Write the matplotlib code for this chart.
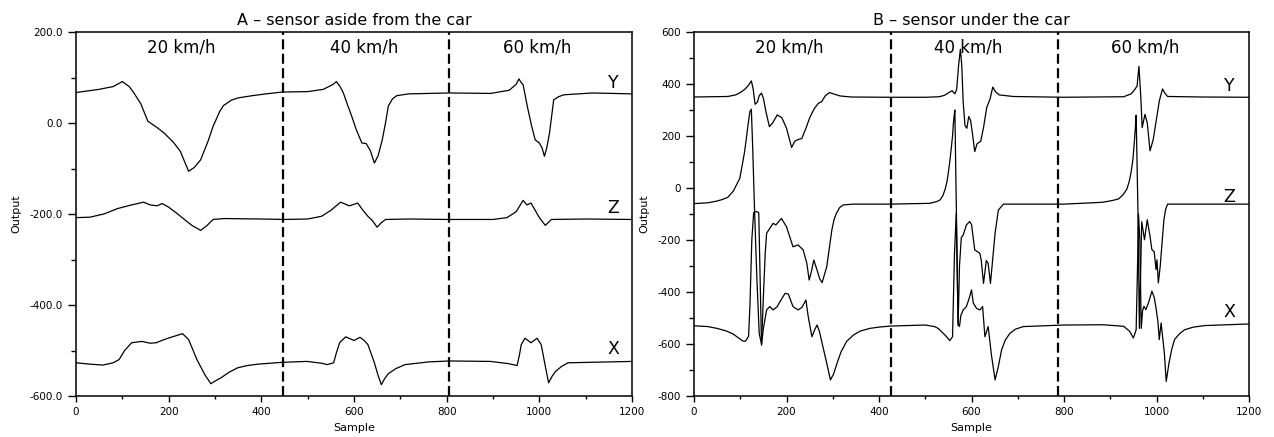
import matplotlib
matplotlib.use('Agg')
import matplotlib.pyplot as plt
from matplotlib.ticker import MultipleLocator, FormatStrFormatter

plt.rcParams['font.family'] = ['DejaVu Sans']

# ---- panel A: sensor aside from the car ----
a_y_s = [0, 50, 80, 100, 115, 125, 140, 155, 175, 190, 210, 225, 243, 255, 269, 285, 296, 310, 318, 335, 349, 380, 410, 445,
         500, 534, 555, 562, 570, 577, 586, 595, 605, 617, 626, 635, 644, 652, 661, 668, 674, 683, 692, 718, 806, 895,
         935, 950, 956, 960, 965, 974, 983, 991, 1000, 1006, 1011, 1016, 1022, 1031, 1042, 1053, 1115, 1200]
a_y_v = [67, 74, 80, 91, 80, 66, 42, 4, -10, -22, -42, -62, -106, -98, -81, -40, -7, 25, 38, 50, 55, 60, 64, 68,
         69, 74, 85, 91, 80, 66, 40, 15, -15, -44, -45, -60, -88, -72, -37, 0, 37, 53, 60, 64, 66, 65,
         72, 85, 97, 90, 84, 37, -5, -37, -44, -55, -73, -55, -22, 51, 58, 62, 66, 64]

a_z_s = [0, 30, 60, 90, 120, 146, 160, 175, 186, 200, 217, 234, 250, 269, 283, 296, 320, 400, 450, 500, 530, 550,
         571, 590, 608, 618, 630, 640, 650, 658, 668, 720, 800, 900, 930, 950, 965, 973, 982, 990, 1000, 1013,
         1026, 1100, 1200]
a_z_v = [-208, -207, -200, -188, -180, -174, -180, -182, -177, -185, -198, -212, -225, -236, -225, -212, -210, -211,
         -212, -211, -205, -192, -174, -182, -176, -190, -205, -215, -229, -220, -212, -211, -212, -212, -208, -195,
         -170, -180, -176, -190, -208, -225, -212, -211, -212]

a_x_s = [0, 30, 58, 80, 93, 105, 120, 142, 160, 173, 190, 208, 230, 243, 261, 278, 291, 302, 313, 330, 349, 370,
         393, 445, 498, 530, 542, 556, 562, 569, 582, 600, 613, 622, 630, 644, 652, 659, 666, 674, 690, 710, 762,
         806, 895, 934, 952, 957, 961, 969, 982, 995, 1004, 1013, 1020, 1028, 1035, 1048, 1062, 1200]
a_x_v = [-527, -530, -532, -527, -520, -500, -483, -480, -484, -483, -476, -470, -463, -476, -520, -553, -573, -566,
         -560, -548, -538, -533, -530, -526, -524, -528, -531, -527, -505, -483, -470, -478, -471, -478, -487, -527,
         -555, -575, -562, -551, -540, -531, -525, -523, -524, -529, -533, -510, -487, -473, -483, -473, -487, -535,
         -571, -556, -546, -535, -527, -524]

# ---- panel B: sensor under the car ----
b_y_s = [0, 73, 90, 100, 110, 117, 124, 128, 132, 137, 141, 146, 150, 156, 163, 170, 180, 190, 200, 211, 218, 226,
         233, 242, 251, 260, 269, 276, 284, 293, 305, 316, 340, 420, 500, 530, 541, 552, 558, 564, 568, 572, 576,
         579, 582, 586, 590, 594, 598, 602, 607, 612, 616, 620, 626, 633, 640, 646, 652, 660, 690, 800, 929, 945,
         951, 958, 962, 966, 969, 975, 980, 986, 993, 1002, 1006, 1013, 1018, 1024, 1100, 1200]
b_y_v = [350, 352, 358, 367, 380, 393, 412, 380, 322, 330, 355, 365, 345, 290, 236, 250, 281, 270, 230, 156, 180,
         187, 190, 230, 274, 305, 326, 332, 355, 367, 360, 354, 350, 349, 349, 351, 356, 368, 374, 362, 380, 470,
         534, 470, 330, 240, 230, 275, 260, 210, 140, 170, 175, 180, 233, 310, 342, 388, 370, 358, 352, 349, 351,
         362, 374, 392, 468, 353, 232, 283, 251, 143, 187, 289, 334, 381, 365, 352, 350, 349]

b_z_s = [0, 30, 50, 60, 73, 85, 91, 99, 104, 109, 113, 117, 121, 124, 127, 131, 136, 141, 146, 150, 154, 157, 164,
         171, 177, 189, 200, 214, 225, 236, 244, 249, 254, 259, 266, 272, 277, 287, 298, 303, 308, 315, 323, 345,
         425, 510, 525, 532, 538, 543, 547, 550, 553, 556, 559, 561, 563, 564, 567, 571, 574, 578, 582, 589, 596,
         600, 607, 618, 621, 626, 632, 636, 641, 651, 658, 669, 800, 883, 905, 918, 928, 936, 941, 945, 949, 952,
         954, 956, 960, 963, 966, 968, 974, 980, 986, 990, 995, 999, 1001, 1004, 1008, 1016, 1020, 1024, 1200]
b_z_v = [-60, -57, -50, -45, -36, -12, 9, 37, 86, 135, 188, 245, 295, 303, 150, -90, -350, -560, -600, -420, -250,
         -174, -155, -136, -142, -117, -149, -226, -219, -238, -290, -354, -320, -277, -315, -350, -364, -303, -162,
         -120, -97, -75, -65, -62, -62, -59, -52, -46, -30, -5, 25, 60, 100, 149, 200, 252, 285, 300, -50, -530,
         -300, -190, -181, -142, -129, -140, -238, -251, -277, -367, -279, -290, -367, -174, -85, -62, -62, -55,
         -48, -42, -25, -4, 25, 60, 110, 175, 225, 280, -100, -540, -300, -130, -199, -122, -186, -237, -245, -314,
         -276, -365, -301, -122, -80, -62, -62]

b_x_s = [0, 30, 50, 70, 85, 95, 105, 110, 113, 118, 121, 125, 129, 135, 140, 143, 146, 150, 157, 164, 171, 180, 186,
         197, 204, 214, 225, 233, 242, 247, 255, 261, 266, 271, 277, 287, 295, 302, 310, 318, 330, 345, 360, 380,
         400, 425, 500, 520, 528, 539, 545, 553, 559, 563, 567, 571, 574, 577, 582, 589, 595, 600, 604, 611, 618,
         624, 629, 636, 643, 651, 658, 665, 673, 683, 695, 712, 800, 884, 900, 929, 942, 950, 956, 959, 961, 964,
         967, 970, 973, 977, 983, 990, 995, 999, 1003, 1006, 1010, 1017, 1021, 1027, 1033, 1039, 1050, 1061, 1080,
         1105, 1200]
b_x_v = [-530, -533, -540, -550, -562, -575, -588, -590, -585, -570, -450, -200, -95, -90, -95, -350, -605, -540,
         -469, -456, -469, -456, -437, -405, -408, -456, -469, -460, -431, -495, -572, -545, -527, -550, -597, -674,
         -738, -715, -670, -630, -590, -565, -550, -540, -535, -531, -527, -533, -540, -559, -570, -587, -572, -264,
         -97, -520, -533, -490, -469, -456, -424, -392, -443, -463, -469, -456, -572, -533, -641, -738, -687, -623,
         -585, -559, -543, -533, -527, -526, -528, -532, -551, -577, -545, -300, -100, -200, -540, -470, -455, -468,
         -440, -397, -420, -462, -513, -583, -519, -635, -744, -673, -620, -583, -560, -545, -535, -529, -523]

speeds = ['20 km/h', '40 km/h', '60 km/h']
a_speed_x = [228, 623, 996]
b_speed_x = [205, 592, 975]
a_dividers = [447, 805]
b_dividers = [427, 787]

fig = plt.figure(figsize=(12.74, 4.37), dpi=100)
axA = fig.add_axes([76 / 1274, 41 / 437, 556 / 1274, 364 / 437])
axB = fig.add_axes([694 / 1274, 41 / 437, 555 / 1274, 364 / 437])


def style(ax, ylo, yhi, fmt):
    ax.set_xlim(0, 1200)
    ax.set_ylim(ylo, yhi)
    ax.xaxis.set_major_locator(MultipleLocator(200))
    ax.xaxis.set_minor_locator(MultipleLocator(100))
    ax.yaxis.set_major_locator(MultipleLocator(200))
    ax.yaxis.set_minor_locator(MultipleLocator(100))
    ax.yaxis.set_major_formatter(FormatStrFormatter(fmt))
    ax.tick_params(axis='x', which='major', length=4.5, width=1, labelsize=7.5, pad=3.5)
    ax.tick_params(axis='x', which='minor', length=2.5, width=1)
    ax.tick_params(axis='y', which='major', length=6, width=1, labelsize=7.5, pad=3.5)
    ax.tick_params(axis='y', which='minor', length=3.5, width=1)
    for sp in ax.spines.values():
        sp.set_linewidth(1.1)
    ax.set_xlabel('Sample', fontsize=8, labelpad=4)
    ax.set_ylabel('Output', fontsize=8, labelpad=6)


# panel A
for s, v in [(a_y_s, a_y_v), (a_z_s, a_z_v), (a_x_s, a_x_v)]:
    axA.plot(s, v, color='black', lw=0.9)
for d in a_dividers:
    axA.axvline(d, color='black', lw=1.6, ls=(0, (4.5, 2)))
for t, x in zip(speeds, a_speed_x):
    axA.text(x, 167, t, fontsize=12, ha='center', va='center')
axA.text(1160, 88, 'Y', fontsize=12.5, ha='center', va='center')
axA.text(1160, -187, 'Z', fontsize=12.5, ha='center', va='center')
axA.text(1160, -497, 'X', fontsize=12.5, ha='center', va='center')
style(axA, -600, 200, '%.1f')
axA.set_title('A \u2013 sensor aside from the car', fontsize=11.5, pad=5)

# panel B
for s, v in [(b_y_s, b_y_v), (b_z_s, b_z_v), (b_x_s, b_x_v)]:
    axB.plot(s, v, color='black', lw=0.9)
for d in b_dividers:
    axB.axvline(d, color='black', lw=1.6, ls=(0, (4.5, 2)))
for t, x in zip(speeds, b_speed_x):
    axB.text(x, 542, t, fontsize=12, ha='center', va='center')
axB.text(1158, 392, 'Y', fontsize=12.5, ha='center', va='center')
axB.text(1158, -35, 'Z', fontsize=12.5, ha='center', va='center')
axB.text(1158, -476, 'X', fontsize=12.5, ha='center', va='center')
style(axB, -800, 600, '%d')
axB.set_title('B \u2013 sensor under the car', fontsize=11.5, pad=5)

fig.savefig('out.png', dpi=100)
